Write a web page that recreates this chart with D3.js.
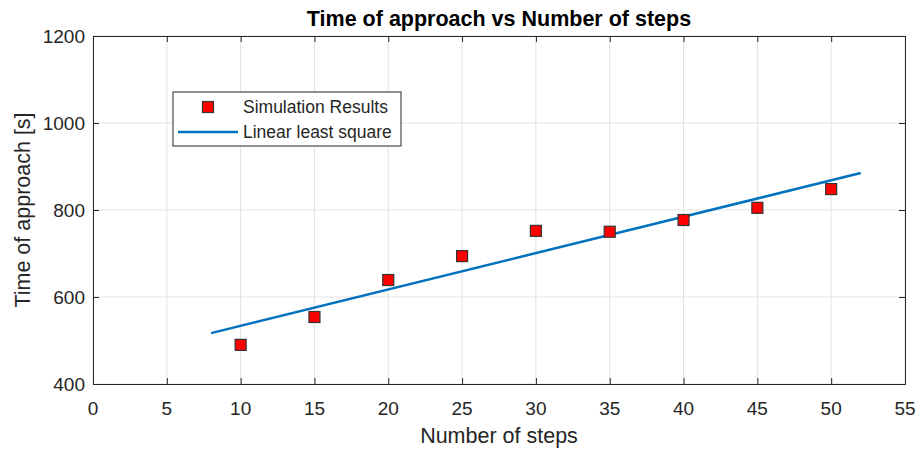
<!DOCTYPE html>
<html>
<head>
<meta charset="utf-8">
<script src="https://cdn.jsdelivr.net/npm/d3@7"></script>
<style>
  body { margin: 0; background: #fff; }
  text { font-family: "Liberation Sans", Arial, sans-serif; }
</style>
</head>
<body>
<div id="chart"></div>
<script>
// simulation results
const steps = [10, 15, 20, 25, 30, 35, 40, 45, 50];
const times = [490, 554, 639, 694, 752, 750, 777, 805, 848];

// least squares line, end points as drawn
const fitSteps = [8, 52];
const fitTimes = [517, 885];

const xTicks = [0, 5, 10, 15, 20, 25, 30, 35, 40, 45, 50, 55];
const yTicks = [400, 600, 800, 1000, 1200];

const width = 918, height = 450;
const margin = { top: 36, right: 13, bottom: 66, left: 93 };

const svg = d3.select("#chart").append("svg")
  .attr("width", width)
  .attr("height", height);

const x = d3.scaleLinear().domain([0, 55]).range([margin.left, width - margin.right]);
const y = d3.scaleLinear().domain([400, 1200]).range([height - margin.bottom, margin.top]);

const tickColor = "#262626";

// grid
svg.append("g")
   .selectAll("line")
   .data(xTicks)
   .enter().append("line")
   .attr("x1", d => x(d)).attr("x2", d => x(d))
   .attr("y1", y(400)).attr("y2", y(1200))
   .style("stroke", "#e3e3e3").style("stroke-width", 1);

svg.append("g")
   .selectAll("line")
   .data(yTicks)
   .enter().append("line")
   .attr("x1", x(0)).attr("x2", x(55))
   .attr("y1", d => y(d)).attr("y2", d => y(d))
   .style("stroke", "#e3e3e3").style("stroke-width", 1);

// axes, ticks pointing inward (matlab style), box on all sides
svg.append("g")
   .attr("transform", `translate(0,${y(400)})`)
   .call(d3.axisTop(x).tickValues(xTicks).tickSize(6).tickFormat(""));
svg.append("g")
   .attr("transform", `translate(0,${y(1200)})`)
   .call(d3.axisBottom(x).tickValues(xTicks).tickSize(6).tickFormat(""));
svg.append("g")
   .attr("transform", `translate(${x(0)},0)`)
   .call(d3.axisRight(y).tickValues(yTicks).tickSize(6).tickFormat(""));
svg.append("g")
   .attr("transform", `translate(${x(55)},0)`)
   .call(d3.axisLeft(y).tickValues(yTicks).tickSize(6).tickFormat(""));

svg.selectAll(".domain, .tick line")
   .style("stroke", tickColor).style("stroke-width", 1);

// tick labels
svg.append("g")
   .selectAll("text")
   .data(xTicks)
   .enter().append("text")
   .attr("x", d => x(d))
   .attr("y", y(400) + 31)
   .attr("text-anchor", "middle")
   .style("font-size", "19px")
   .style("fill", tickColor)
   .text(d => d);

svg.append("g")
   .selectAll("text")
   .data(yTicks)
   .enter().append("text")
   .attr("x", x(0) - 8)
   .attr("y", d => y(d) + 7)
   .attr("text-anchor", "end")
   .style("font-size", "19px")
   .style("fill", tickColor)
   .text(d => d);

// fitted line
const line = d3.line().x(d => x(d[0])).y(d => y(d[1]));
svg.append("path")
   .datum(d3.zip(fitSteps, fitTimes))
   .attr("d", line)
   .style("fill", "none")
   .style("stroke", "#0072BD")
   .style("stroke-width", 2.5);

// markers
const m = 11;
svg.append("g")
   .selectAll("rect")
   .data(d3.zip(steps, times))
   .enter().append("rect")
   .attr("x", d => x(d[0]) - m / 2)
   .attr("y", d => y(d[1]) - m / 2)
   .attr("width", m).attr("height", m)
   .style("fill", "#ff0000")
   .style("stroke", "#333")
   .style("stroke-width", 1.2);

// title and axis labels
svg.append("text")
   .attr("x", (x(0) + x(55)) / 2)
   .attr("y", 26)
   .attr("text-anchor", "middle")
   .style("font-size", "21.5px")
   .style("font-weight", "bold")
   .style("fill", "#000")
   .text("Time of approach vs Number of steps");

svg.append("text")
   .attr("x", (x(0) + x(55)) / 2)
   .attr("y", 443)
   .attr("text-anchor", "middle")
   .style("font-size", "21.5px")
   .style("fill", tickColor)
   .text("Number of steps");

svg.append("text")
   .attr("transform", `translate(30,${(y(400) + y(1200)) / 2}) rotate(-90)`)
   .attr("text-anchor", "middle")
   .style("font-size", "21.5px")
   .style("fill", tickColor)
   .text("Time of approach [s]");

// legend
const legend = svg.append("g").attr("transform", "translate(173,92)");
legend.append("rect")
      .attr("width", 228).attr("height", 54)
      .style("fill", "#fff")
      .style("stroke", "#262626").style("stroke-width", 1);
legend.append("rect")
      .attr("x", 35 - m / 2).attr("y", 15 - m / 2)
      .attr("width", m).attr("height", m)
      .style("fill", "#ff0000").style("stroke", "#333").style("stroke-width", 1.2);
legend.append("line")
      .attr("x1", 5).attr("x2", 65)
      .attr("y1", 40).attr("y2", 40)
      .style("stroke", "#0072BD").style("stroke-width", 2.5);
legend.append("text")
      .attr("x", 70).attr("y", 21)
      .style("font-size", "17.5px").style("fill", tickColor)
      .text("Simulation Results");
legend.append("text")
      .attr("x", 70).attr("y", 46)
      .style("font-size", "17.5px").style("fill", tickColor)
      .text("Linear least square");
</script>
</body>
</html>
